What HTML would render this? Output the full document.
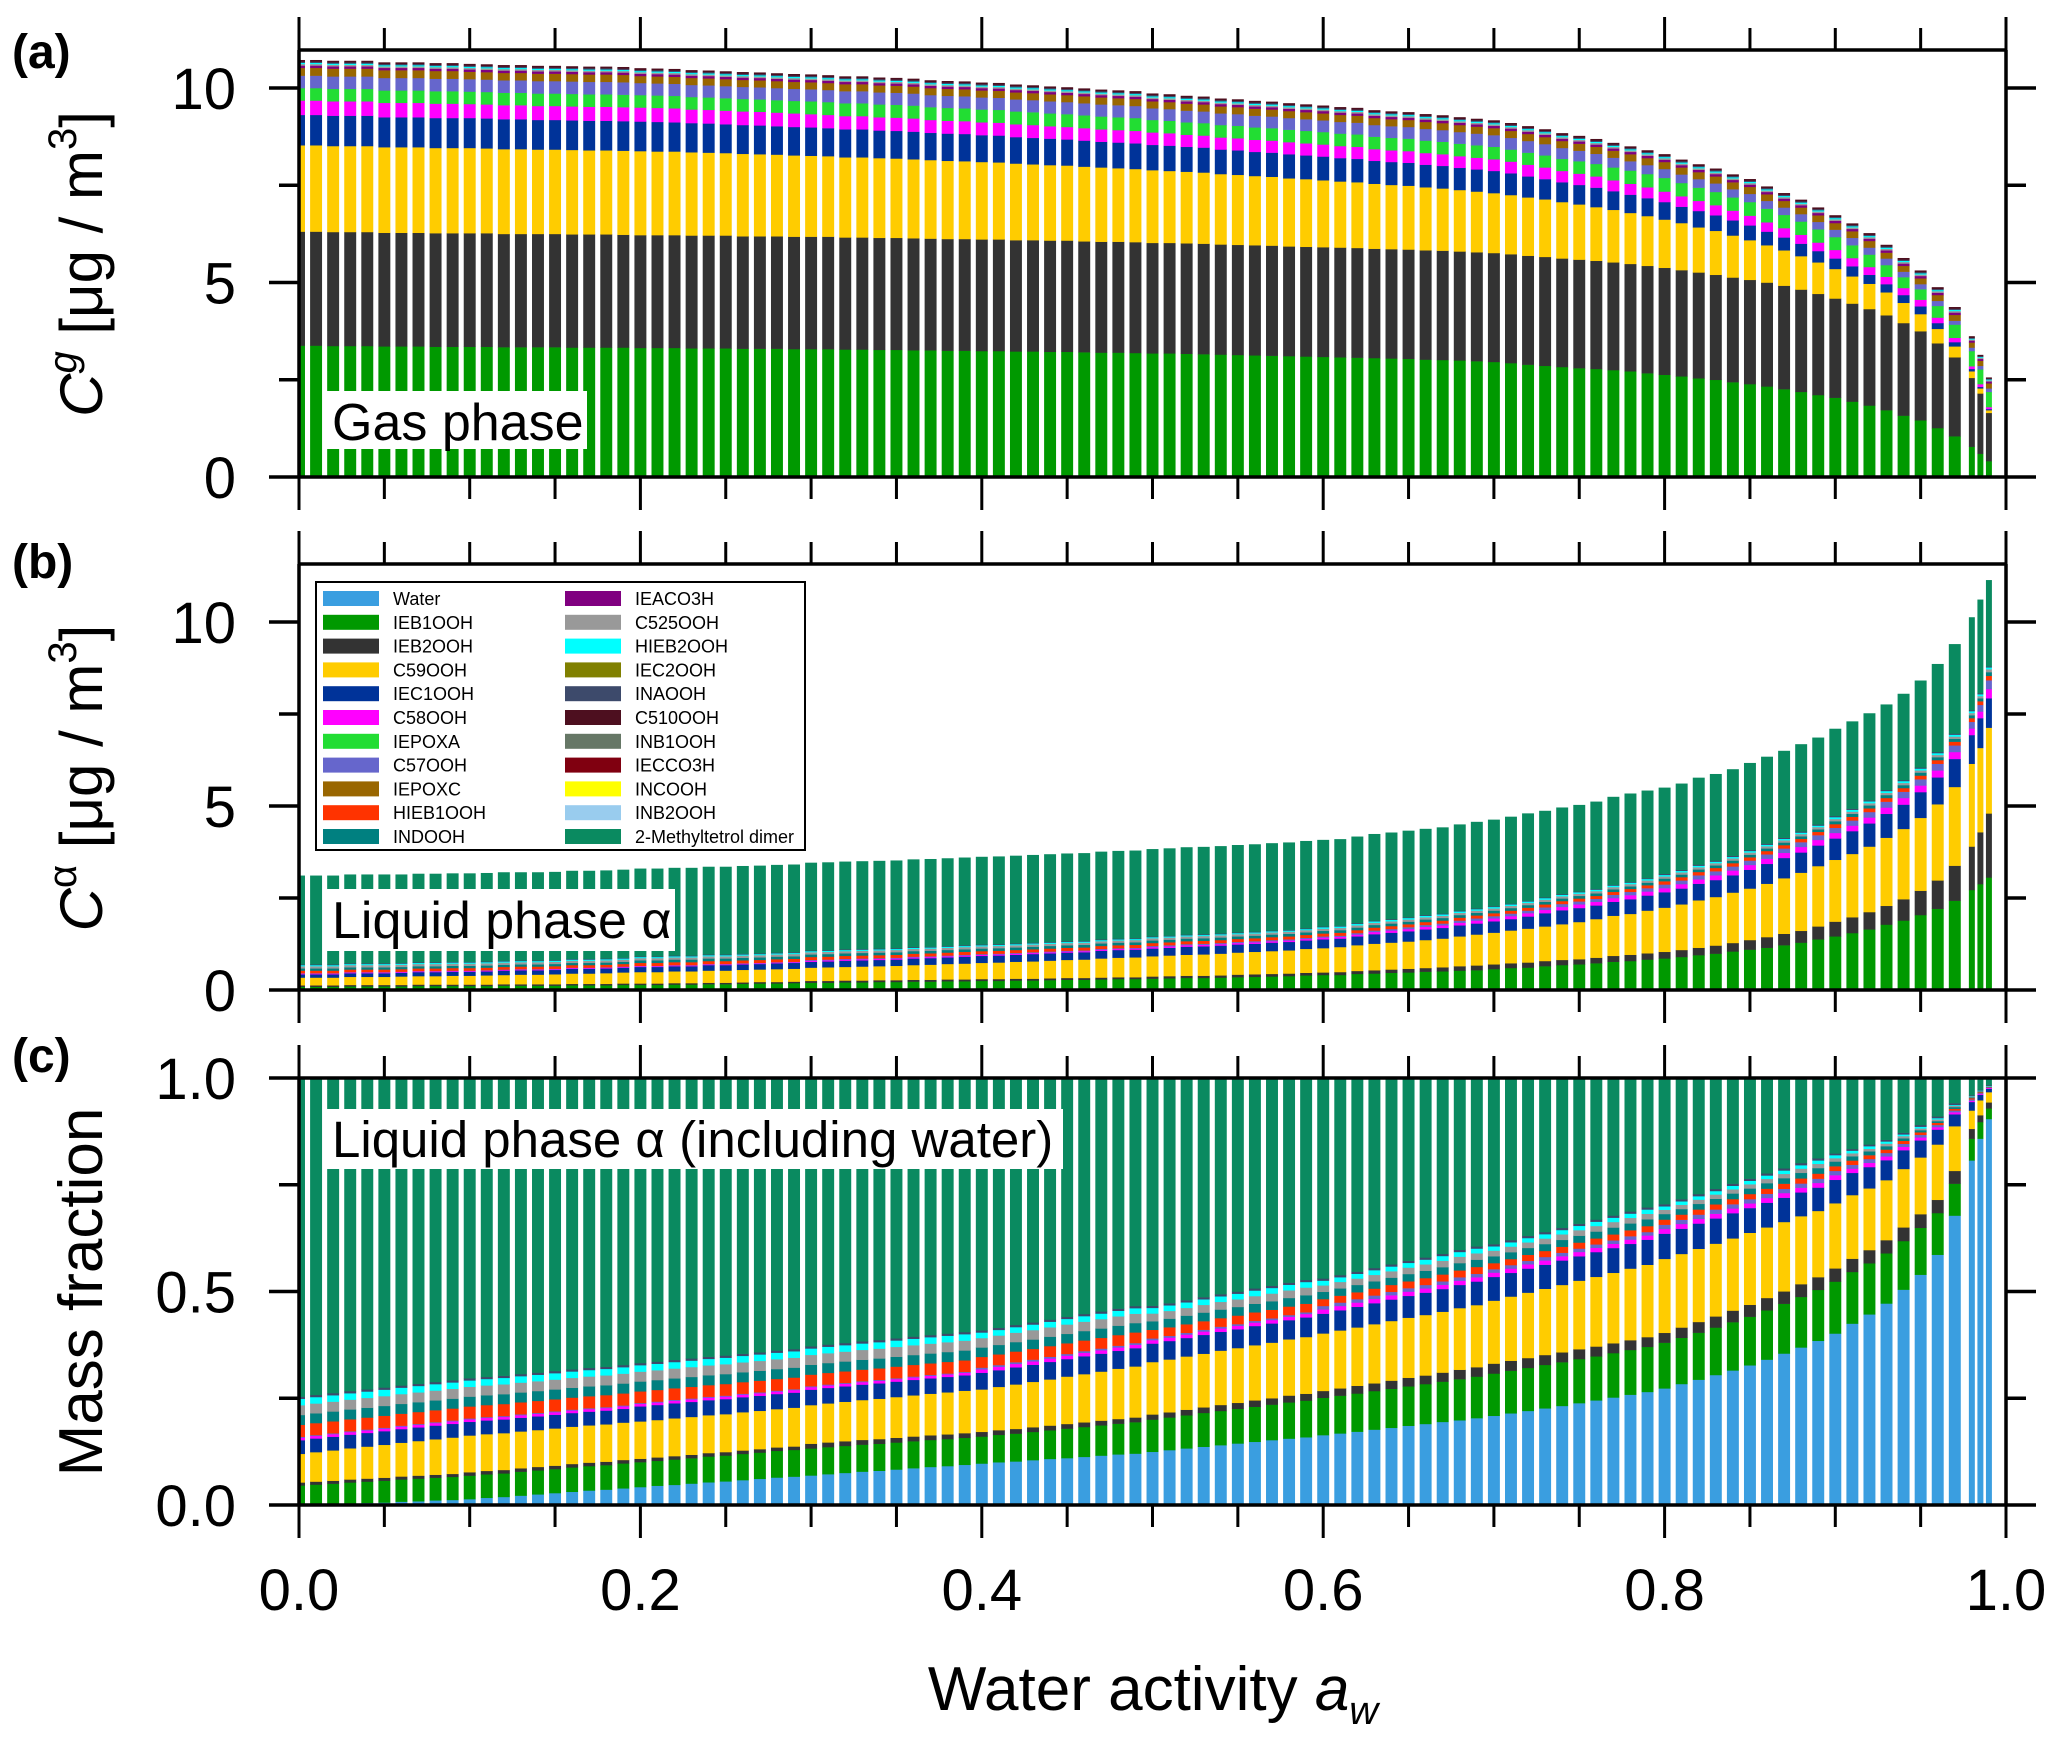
<!DOCTYPE html>
<html><head><meta charset="utf-8"><title>Stacked bars vs water activity</title>
<style>
html,body{margin:0;padding:0;background:#fff;}
svg{display:block;font-family:"Liberation Sans",Arial,sans-serif;}
</style></head>
<body>
<svg id="fig" width="2067" height="1744" viewBox="0 0 2067 1744" xmlns="http://www.w3.org/2000/svg">
<defs>
<clipPath id="clipA"><rect x="299" y="50" width="1707" height="427"/></clipPath>
<clipPath id="clipB"><rect x="299" y="564" width="1707" height="426"/></clipPath>
<clipPath id="clipC"><rect x="299" y="1078" width="1707" height="427"/></clipPath>
</defs>
<g id="bars"></g>
<g id="axes"></g>
<rect x="323" y="391" width="264" height="58" fill="#fff"/>
<text x="332" y="440" font-size="52">Gas phase</text>
<rect x="323" y="889" width="352" height="62" fill="#fff"/>
<text x="332" y="938" font-size="52">Liquid phase α</text>
<rect x="323" y="1109" width="740" height="60" fill="#fff"/>
<text x="332" y="1157" font-size="51">Liquid phase α (including water)</text>
<text x="12" y="68" font-size="48" font-weight="bold">(a)</text>
<text x="12" y="578" font-size="48" font-weight="bold">(b)</text>
<text x="12" y="1072" font-size="48" font-weight="bold">(c)</text>
<text transform="translate(102,264) rotate(-90)" text-anchor="middle" font-size="60"><tspan font-style="italic">C</tspan><tspan font-style="italic" font-size="40" dy="-26">g</tspan><tspan dy="26">  [μg / m</tspan><tspan font-size="40" dy="-26">3</tspan><tspan dy="26">]</tspan></text>
<text transform="translate(102,778) rotate(-90)" text-anchor="middle" font-size="60"><tspan font-style="italic">C</tspan><tspan font-size="40" dy="-26">α</tspan><tspan dy="26">  [μg / m</tspan><tspan font-size="40" dy="-26">3</tspan><tspan dy="26">]</tspan></text>
<text transform="translate(102,1292) rotate(-90)" text-anchor="middle" font-size="62">Mass fraction</text>
<text x="1153" y="1710" text-anchor="middle" font-size="62">Water activity  <tspan font-style="italic">a</tspan><tspan font-style="italic" font-size="40" dy="14">w</tspan></text>
<g id="legend"></g>
</svg>
<script>
const aw = [0,0.01,0.02,0.03,0.04,0.05,0.06,0.07,0.08,0.09,0.10,0.11,0.12,0.13,0.14,0.15,0.16,0.17,0.18,0.19,0.20,0.21,0.22,0.23,0.24,0.25,0.26,0.27,0.28,0.29,0.30,0.31,0.32,0.33,0.34,0.35,0.36,0.37,0.38,0.39,0.40,0.41,0.42,0.43,0.44,0.45,0.46,0.47,0.48,0.49,0.50,0.51,0.52,0.53,0.54,0.55,0.56,0.57,0.58,0.59,0.60,0.61,0.62,0.63,0.64,0.65,0.66,0.67,0.68,0.69,0.70,0.71,0.72,0.73,0.74,0.75,0.76,0.77,0.78,0.79,0.80,0.81,0.82,0.83,0.84,0.85,0.86,0.87,0.88,0.89,0.90,0.91,0.92,0.93,0.94,0.95,0.96,0.97,0.98,0.985,0.99];
const speciesNames = ["Water","IEB1OOH","IEB2OOH","C59OOH","IEC1OOH","C58OOH","IEPOXA","C57OOH","IEPOXC","HIEB1OOH","INDOOH","IEACO3H","C525OOH","HIEB2OOH","IEC2OOH","INAOOH","C510OOH","INB1OOH","IECCO3H","INCOOH","INB2OOH","2-Methyltetrol dimer"];
const speciesColors = ["#3a9ee0","#009900","#333333","#ffcc00","#003399","#ff00ff","#22dd33","#6666cc","#996600","#ff3300","#008080","#800080","#999999","#00ffff","#808000","#3d4a6b","#4d0f1f","#667766","#800010","#ffff00","#99ccee","#0a8a60"];
const xTickLabels = ["0.0","0.2","0.4","0.6","0.8","1.0"];
const xTickValues = [0,0.2,0.4,0.6,0.8,1.0];
const yTicksA = [0,5,10]; const yTickLabelsA = ["0","5","10"];
const yTicksB = [0,5,10]; const yTickLabelsB = ["0","5","10"];
const yTicksC = [0,0.5,1.0]; const yTickLabelsC = ["0.0","0.5","1.0"];

/* ---------- Panel (a): gas phase, ug/m3 ---------- */
const gasIEB1OOH = [3.38,3.38,3.37,3.37,3.37,3.36,3.36,3.36,3.35,3.35,
3.35,3.35,3.34,3.34,3.34,3.34,3.33,3.33,3.33,3.33,
3.32,3.32,3.32,3.31,3.31,3.31,3.30,3.30,3.30,3.29,
3.29,3.29,3.28,3.28,3.27,3.27,3.26,3.26,3.25,3.25,
3.24,3.24,3.23,3.23,3.22,3.22,3.21,3.20,3.20,3.19,
3.18,3.18,3.17,3.16,3.15,3.14,3.13,3.12,3.11,3.10,
3.09,3.08,3.07,3.06,3.05,3.04,3.02,3.01,3.00,2.98,
2.96,2.93,2.89,2.86,2.83,2.80,2.78,2.75,2.72,2.67,
2.63,2.59,2.54,2.50,2.44,2.39,2.33,2.26,2.19,2.11,
2.04,1.94,1.84,1.72,1.58,1.46,1.26,1.05,0.78,0.60,0.41];
const gasIEB2OOH = [2.93,2.93,2.93,2.93,2.93,2.92,2.92,2.92,2.92,2.92,
2.92,2.92,2.91,2.91,2.91,2.91,2.91,2.91,2.91,2.90,
2.90,2.90,2.90,2.90,2.90,2.90,2.89,2.89,2.89,2.89,
2.89,2.89,2.88,2.88,2.88,2.88,2.88,2.87,2.87,2.87,
2.87,2.87,2.86,2.86,2.86,2.86,2.85,2.85,2.85,2.85,
2.84,2.84,2.84,2.84,2.83,2.83,2.83,2.83,2.82,2.82,
2.82,2.82,2.82,2.81,2.81,2.81,2.81,2.81,2.80,2.80,
2.80,2.80,2.80,2.80,2.79,2.79,2.78,2.77,2.76,2.76,
2.75,2.73,2.72,2.70,2.69,2.68,2.67,2.66,2.63,2.60,
2.55,2.52,2.48,2.44,2.38,2.29,2.18,2.03,1.77,1.55,1.24];
const gasC59OOH = [2.22,2.22,2.21,2.21,2.21,2.20,2.20,2.20,2.19,2.19,
2.19,2.18,2.18,2.18,2.17,2.17,2.17,2.16,2.16,2.16,
2.16,2.15,2.15,2.14,2.13,2.12,2.12,2.11,2.10,2.09,
2.08,2.07,2.06,2.06,2.05,2.04,2.03,2.02,2.01,2.00,
1.99,1.98,1.97,1.95,1.94,1.93,1.92,1.91,1.89,1.88,
1.87,1.85,1.84,1.83,1.81,1.80,1.78,1.77,1.75,1.74,
1.72,1.70,1.69,1.67,1.65,1.64,1.62,1.60,1.58,1.56,
1.54,1.52,1.50,1.48,1.45,1.42,1.38,1.35,1.31,1.28,
1.24,1.21,1.16,1.13,1.08,1.02,0.96,0.91,0.86,0.81,
0.76,0.70,0.65,0.59,0.52,0.44,0.37,0.28,0.17,0.13,0.07];
const gasIEC1OOH = [.78,.78,.78,.78,.78,.77,.77,.77,.77,.77,
.77,.77,.77,.77,.76,.76,.76,.76,.76,.76,
.76,.76,.75,.75,.75,.74,.74,.74,.73,.73,
.73,.72,.72,.72,.71,.71,.71,.70,.70,.70,
.69,.69,.68,.68,.68,.67,.67,.66,.66,.66,
.65,.65,.64,.64,.63,.63,.62,.62,.62,.61,
.61,.60,.60,.59,.59,.59,.58,.58,.57,.57,
.57,.56,.54,.52,.51,.50,.50,.48,.47,.46,
.45,.42,.42,.40,.39,.38,.35,.33,.32,.29,
.27,.26,.23,.21,.20,.20,.15,.11,.06,.04,.03];
const gasC58OOH = [.37,.37,.37,.37,.37,.37,.37,.37,.37,.37,
.36,.36,.36,.36,.36,.36,.36,.36,.36,.36,
.36,.36,.36,.35,.35,.35,.35,.35,.35,.35,
.34,.34,.34,.34,.34,.34,.34,.33,.33,.33,
.33,.33,.33,.33,.32,.32,.32,.32,.32,.32,
.32,.32,.31,.31,.31,.31,.31,.31,.31,.31,
.31,.31,.31,.30,.30,.30,.30,.30,.30,.30,
.30,.30,.30,.30,.29,.29,.29,.28,.28,.28,
.27,.27,.26,.26,.25,.25,.24,.24,.23,.22,
.22,.21,.20,.19,.18,.17,.14,.11,.07,.07,.05];
const gasIEPOXA = [.32,.32,.32,.32,.32,.32,.32,.32,.32,.32,
.32,.32,.32,.32,.32,.32,.32,.32,.32,.32,
.32,.32,.32,.32,.32,.32,.32,.32,.32,.32,
.33,.33,.33,.33,.33,.33,.33,.33,.33,.33,
.33,.33,.33,.33,.33,.33,.33,.33,.33,.33,
.32,.32,.32,.32,.32,.32,.32,.32,.32,.32,
.32,.32,.32,.32,.32,.32,.32,.32,.32,.32,
.32,.31,.31,.31,.31,.32,.32,.33,.34,.34,
.35,.34,.34,.34,.34,.35,.35,.34,.34,.34,
.33,.33,.32,.30,.28,.27,.30,.34,.39,.38,.39];
const gasC57OOH = [.32,.32,.32,.32,.32,.32,.32,.32,.32,.32,
.32,.32,.32,.32,.32,.32,.32,.32,.32,.32,
.31,.31,.31,.31,.31,.31,.31,.31,.31,.31,
.31,.31,.31,.31,.31,.31,.31,.31,.31,.31,
.31,.31,.31,.31,.31,.31,.31,.31,.31,.31,
.30,.30,.30,.30,.30,.30,.30,.30,.30,.30,
.30,.30,.30,.30,.30,.30,.30,.30,.30,.30,
.30,.30,.30,.29,.28,.27,.26,.25,.24,.23,
.23,.22,.22,.22,.21,.21,.20,.19,.19,.19,
.19,.19,.18,.17,.14,.13,.13,.10,.09,.09,.09];
const gasIEPOXC = [.20,.20,.20,.20,.20,.20,.20,.20,.20,.20,
.19,.19,.19,.19,.19,.19,.19,.19,.19,.19,
.18,.18,.18,.18,.18,.18,.18,.18,.18,.18,
.18,.18,.18,.18,.18,.18,.18,.18,.18,.18,
.18,.18,.18,.18,.18,.18,.18,.18,.18,.18,
.18,.18,.18,.18,.18,.18,.18,.18,.18,.18,
.18,.18,.18,.18,.18,.18,.18,.18,.18,.18,
.18,.18,.18,.18,.18,.18,.18,.18,.18,.18,
.18,.18,.18,.18,.18,.18,.17,.17,.17,.17,
.17,.17,.17,.15,.15,.15,.15,.15,.13,.13,.13];
const gasIEACO3H = [.06,.06,.06,.06,.06,.06,.06,.06,.06,.06,
.06,.06,.06,.06,.06,.06,.06,.06,.06,.06,
.06,.06,.06,.06,.06,.06,.06,.06,.06,.06,
.06,.06,.06,.06,.06,.06,.06,.06,.06,.06,
.06,.06,.06,.06,.06,.06,.06,.06,.06,.06,
.06,.06,.06,.06,.06,.06,.06,.06,.06,.06,
.06,.06,.06,.06,.06,.06,.06,.06,.06,.06,
.06,.06,.06,.06,.06,.06,.06,.06,.06,.06,
.06,.06,.06,.06,.06,.06,.06,.06,.06,.06,
.06,.06,.06,.06,.06,.06,.06,.06,.05,.05,.05];
const gasC525OOH = [.04,.04,.04,.04,.04,.04,.04,.04,.04,.04,
.04,.04,.04,.04,.04,.04,.04,.04,.04,.04,
.04,.04,.04,.04,.04,.04,.04,.04,.04,.04,
.04,.04,.04,.04,.04,.04,.04,.04,.04,.04,
.04,.04,.04,.04,.04,.04,.04,.04,.04,.04,
.04,.04,.04,.04,.04,.04,.04,.04,.04,.04,
.04,.04,.04,.04,.04,.04,.04,.04,.04,.04,
.04,.04,.04,.04,.04,.04,.04,.04,.04,.04,
.04,.04,.04,.04,.04,.04,.04,.04,.04,.04,
.04,.04,.04,.04,.04,.04,.04,.04,.03,.03,.03];
const gasHIEB2OOH = [.03,.03,.03,.03,.03,.03,.03,.03,.03,.03,
.03,.03,.03,.03,.03,.03,.03,.03,.03,.03,
.03,.03,.03,.03,.03,.03,.03,.03,.03,.03,
.03,.03,.03,.03,.03,.03,.03,.03,.03,.03,
.03,.03,.03,.03,.03,.03,.03,.03,.03,.03,
.03,.03,.03,.03,.03,.03,.03,.03,.03,.03,
.03,.03,.03,.03,.03,.03,.03,.03,.03,.03,
.03,.03,.03,.03,.03,.03,.03,.03,.03,.03,
.03,.03,.03,.03,.03,.03,.03,.03,.03,.03,
.03,.03,.03,.03,.03,.03,.03,.03,.02,.02,.02];
const gasINAOOH = [.03,.03,.03,.03,.03,.03,.03,.03,.03,.03,
.03,.03,.03,.03,.03,.03,.03,.03,.03,.03,
.03,.03,.03,.03,.03,.03,.03,.03,.03,.03,
.03,.03,.03,.03,.03,.03,.03,.03,.03,.03,
.03,.03,.03,.03,.03,.03,.03,.03,.03,.03,
.03,.03,.03,.03,.03,.03,.03,.03,.03,.03,
.03,.03,.03,.03,.03,.03,.03,.03,.03,.03,
.03,.03,.03,.03,.03,.03,.03,.03,.03,.03,
.03,.03,.03,.03,.03,.03,.03,.03,.03,.03,
.03,.03,.03,.03,.03,.03,.03,.03,.02,.02,.02];
const gasC510OOH = [.04,.04,.04,.04,.04,.04,.04,.04,.04,.04,
.04,.04,.04,.04,.04,.04,.04,.04,.04,.04,
.04,.04,.04,.04,.04,.04,.04,.04,.04,.04,
.04,.04,.04,.04,.04,.04,.04,.04,.04,.04,
.04,.04,.04,.04,.04,.04,.04,.04,.04,.04,
.04,.04,.04,.04,.04,.04,.04,.04,.04,.04,
.04,.04,.04,.04,.04,.04,.04,.04,.04,.04,
.04,.04,.04,.04,.04,.04,.04,.04,.04,.04,
.04,.04,.04,.04,.04,.04,.04,.04,.04,.04,
.04,.04,.04,.04,.04,.04,.04,.04,.04,.03,.03];

/* ---------- Panel (b): liquid phase alpha, ug/m3 ---------- */
const liqIEB1OOH = [.09,.09,.09,.10,.10,.10,.10,.11,.11,.11,
.11,.11,.12,.12,.12,.12,.13,.13,.13,.14,
.14,.14,.15,.15,.16,.16,.17,.18,.18,.19,
.20,.20,.21,.21,.22,.22,.23,.23,.24,.24,
.25,.25,.26,.26,.27,.28,.28,.29,.30,.30,
.31,.32,.33,.33,.34,.35,.36,.37,.38,.40,
.41,.41,.44,.45,.47,.48,.50,.51,.53,.54,
.57,.60,.61,.65,.68,.70,.73,.77,.79,.83,
.86,.90,.95,.99,1.05,1.10,1.15,1.22,1.29,1.38,
1.46,1.55,1.65,1.78,1.89,2.04,2.21,2.43,2.72,2.88,3.06];
const liqIEB2OOH = [.04,.04,.04,.04,.04,.04,.04,.04,.04,.04,
.04,.04,.04,.04,.04,.04,.04,.04,.04,.04,
.04,.04,.04,.04,.04,.04,.04,.04,.04,.04,
.05,.05,.05,.05,.05,.05,.05,.05,.05,.05,
.05,.05,.05,.05,.05,.05,.05,.05,.05,.05,
.06,.06,.06,.06,.06,.07,.07,.07,.07,.07,
.07,.08,.08,.09,.09,.10,.10,.11,.12,.13,
.13,.13,.14,.14,.14,.14,.15,.16,.17,.17,
.18,.19,.20,.22,.23,.26,.29,.31,.32,.35,
.40,.43,.47,.51,.58,.66,.77,.95,1.18,1.41,1.74];
const liqC59OOH = [.21,.21,.21,.22,.22,.22,.23,.23,.23,.24,
.24,.25,.25,.26,.26,.27,.28,.28,.29,.30,
.31,.31,.32,.32,.33,.33,.34,.34,.35,.35,
.36,.37,.37,.38,.38,.39,.40,.41,.42,.43,
.44,.45,.46,.47,.48,.49,.50,.52,.53,.54,
.55,.56,.57,.58,.59,.60,.61,.62,.63,.65,
.66,.68,.70,.72,.73,.74,.76,.78,.81,.84,
.86,.89,.92,.94,.97,1.01,1.05,1.09,1.11,1.16,
1.20,1.24,1.29,1.32,1.37,1.40,1.45,1.51,1.58,1.64,
1.68,1.72,1.78,1.85,1.91,1.98,2.07,2.14,2.25,2.29,2.33];
const liqIEC1OOH = [.09,.09,.09,.10,.10,.10,.10,.11,.11,.11,
.11,.11,.12,.12,.12,.12,.13,.13,.13,.13,
.14,.14,.14,.14,.15,.15,.15,.15,.16,.16,
.16,.16,.17,.17,.17,.17,.18,.18,.18,.19,
.19,.19,.19,.20,.20,.20,.20,.21,.21,.21,
.21,.21,.22,.22,.22,.22,.22,.23,.23,.23,
.24,.23,.24,.26,.27,.28,.29,.29,.30,.30,
.31,.31,.33,.36,.38,.38,.37,.38,.40,.41,
.42,.43,.45,.46,.47,.51,.54,.55,.55,.56,
.58,.62,.63,.65,.66,.70,.73,.76,.78,.81,.80];
const liqC58OOH = [.02,.02,.02,.02,.02,.02,.02,.02,.02,.02,
.02,.02,.02,.02,.02,.02,.02,.02,.02,.02,
.02,.02,.02,.02,.02,.02,.02,.02,.02,.02,
.03,.03,.03,.03,.03,.03,.03,.03,.03,.03,
.03,.03,.03,.03,.03,.03,.03,.03,.03,.03,
.04,.04,.04,.04,.04,.04,.04,.04,.04,.04,
.05,.05,.05,.06,.06,.06,.07,.07,.07,.08,
.08,.08,.09,.09,.09,.10,.10,.10,.11,.11,
.11,.12,.12,.13,.13,.13,.14,.14,.15,.15,
.15,.15,.16,.17,.18,.18,.19,.19,.18,.18,.25];
const liqC57OOH = [.01,.01,.01,.01,.01,.01,.01,.01,.01,.01,
.01,.01,.01,.01,.01,.01,.01,.01,.01,.01,
.01,.01,.01,.01,.01,.01,.01,.01,.01,.01,
.02,.02,.02,.02,.02,.02,.02,.02,.02,.02,
.02,.02,.02,.02,.02,.02,.02,.02,.02,.02,
.03,.03,.03,.03,.03,.03,.03,.03,.03,.03,
.03,.03,.04,.04,.04,.05,.05,.05,.06,.06,
.06,.07,.07,.07,.08,.08,.08,.09,.09,.09,
.10,.10,.11,.11,.11,.12,.12,.12,.13,.13,
.14,.14,.15,.16,.17,.17,.18,.18,.18,.18,.24];
const liqHIEB1OOH = [.07,.07,.07,.07,.07,.07,.07,.07,.07,.07,
.07,.07,.07,.07,.07,.07,.07,.07,.07,.07,
.08,.08,.08,.08,.08,.08,.08,.08,.08,.08,
.08,.08,.08,.08,.08,.08,.08,.08,.08,.08,
.08,.08,.08,.08,.08,.08,.08,.08,.08,.08,
.08,.08,.08,.08,.08,.08,.08,.08,.08,.08,
.08,.08,.08,.08,.08,.08,.08,.08,.08,.08,
.08,.08,.08,.08,.08,.08,.08,.08,.08,.08,
.09,.09,.09,.09,.09,.09,.09,.09,.09,.09,
.10,.10,.10,.10,.10,.10,.10,.10,.10,.10,.12];
const liqINDOOH = [.06,.06,.06,.06,.06,.06,.06,.06,.06,.06,
.06,.06,.06,.06,.06,.06,.06,.06,.06,.06,
.07,.07,.07,.07,.07,.07,.07,.07,.07,.07,
.07,.07,.07,.07,.07,.07,.07,.07,.07,.07,
.07,.07,.07,.07,.07,.07,.07,.07,.07,.07,
.07,.07,.07,.07,.07,.07,.07,.07,.07,.07,
.07,.07,.07,.07,.07,.07,.07,.07,.07,.07,
.07,.07,.07,.07,.07,.07,.07,.07,.07,.07,
.07,.07,.07,.07,.07,.07,.07,.07,.07,.07,
.08,.08,.08,.08,.08,.08,.08,.08,.08,.08,.10];
const liqC525OOH = [.06,.06,.06,.06,.06,.06,.06,.06,.06,.06,
.06,.06,.06,.06,.06,.06,.06,.06,.06,.06,
.06,.06,.06,.06,.06,.06,.06,.06,.06,.06,
.06,.06,.06,.06,.06,.06,.06,.06,.06,.06,
.06,.06,.06,.06,.06,.06,.06,.06,.06,.06,
.06,.06,.06,.06,.06,.06,.06,.06,.06,.06,
.06,.06,.06,.06,.06,.06,.06,.06,.06,.06,
.06,.06,.06,.06,.06,.06,.06,.06,.06,.06,
.06,.06,.06,.06,.06,.06,.06,.06,.06,.06,
.06,.06,.06,.06,.06,.06,.06,.06,.06,.06,.08];
const liqHIEB2OOH = [.03,.03,.03,.03,.03,.03,.03,.03,.03,.03,
.03,.03,.03,.03,.03,.03,.03,.03,.03,.03,
.03,.03,.03,.03,.03,.03,.03,.03,.03,.03,
.03,.03,.03,.03,.03,.03,.03,.03,.03,.03,
.03,.03,.03,.03,.03,.03,.03,.03,.03,.03,
.03,.03,.03,.03,.03,.03,.03,.03,.03,.03,
.04,.04,.04,.04,.04,.04,.04,.04,.04,.04,
.04,.04,.04,.04,.04,.04,.04,.04,.04,.04,
.04,.04,.04,.04,.04,.04,.04,.04,.04,.04,
.05,.05,.05,.05,.05,.05,.05,.05,.05,.05,.05];
const liqINAOOH = [.02,.02,.02,.02,.02,.02,.02,.02,.02,.02,
.02,.02,.02,.02,.02,.02,.02,.02,.02,.02,
.02,.02,.02,.02,.02,.02,.02,.02,.02,.02,
.02,.02,.02,.02,.02,.02,.02,.02,.02,.02,
.02,.02,.02,.02,.02,.02,.02,.02,.02,.02,
.02,.02,.02,.02,.02,.02,.02,.02,.02,.02,
.02,.02,.02,.02,.02,.02,.02,.02,.02,.02,
.02,.02,.02,.02,.02,.02,.02,.02,.02,.02,
.03,.03,.03,.03,.03,.03,.03,.03,.03,.03,
.03,.03,.03,.03,.03,.03,.03,.03,.03,.03,.03];
const liqDimer = [2.41,2.41,2.41,2.41,2.41,2.41,2.40,2.40,2.40,2.40,
2.40,2.40,2.40,2.39,2.39,2.39,2.39,2.39,2.39,2.39,
2.38,2.38,2.38,2.38,2.38,2.38,2.38,2.38,2.38,2.38,
2.38,2.38,2.38,2.38,2.38,2.38,2.38,2.38,2.38,2.38,
2.38,2.38,2.38,2.38,2.38,2.38,2.38,2.38,2.38,2.38,
2.37,2.37,2.37,2.37,2.37,2.37,2.37,2.37,2.37,2.37,
2.35,2.35,2.35,2.35,2.35,2.35,2.34,2.34,2.34,2.35,
2.35,2.36,2.37,2.35,2.35,2.35,2.37,2.39,2.40,2.38,
2.34,2.34,2.36,2.35,2.35,2.36,2.36,2.36,2.37,2.36,
2.37,2.37,2.36,2.32,2.34,2.36,2.39,2.43,2.52,2.54,2.34];

/* ---------- Panel (c): mass fractions including water ---------- */
const fracWater = [.000,.001,.002,.004,.005,.006,.008,.009,.011,.012,
.014,.017,.019,.022,.025,.028,.031,.034,.036,.039,
.042,.045,.047,.050,.053,.055,.058,.061,.064,.066,
.069,.072,.075,.078,.080,.083,.086,.089,.091,.094,
.097,.100,.102,.105,.108,.110,.113,.116,.119,.121,
.124,.128,.132,.136,.140,.144,.148,.152,.156,.159,
.163,.167,.171,.176,.180,.185,.189,.194,.198,.203,
.207,.213,.219,.225,.231,.238,.245,.252,.259,.266,
.273,.283,.293,.304,.315,.328,.342,.356,.371,.387,
.403,.425,.448,.474,.505,.540,.588,.680,.808,.859,.906];
const fracIEB1OOH = [.046,.047,.048,.049,.050,.051,.052,.053,.053,.054,
.055,.055,.055,.056,.056,.056,.057,.057,.057,.058,
.058,.058,.059,.059,.060,.060,.061,.061,.062,.062,
.063,.063,.063,.063,.063,.063,.063,.063,.063,.063,
.063,.064,.065,.066,.067,.069,.070,.071,.072,.074,
.075,.076,.077,.079,.080,.081,.082,.083,.085,.086,
.087,.088,.089,.090,.091,.092,.093,.094,.096,.097,
.098,.099,.100,.101,.102,.103,.103,.104,.105,.106,
.107,.108,.110,.111,.113,.114,.116,.117,.119,.120,
.122,.121,.120,.118,.114,.110,.098,.075,.051,.039,.025];
const fracIEB2OOH = [.007,.007,.007,.007,.007,.007,.007,.007,.007,.007,
.008,.008,.008,.008,.008,.008,.008,.008,.008,.008,
.008,.008,.008,.008,.008,.008,.008,.008,.008,.008,
.011,.011,.011,.011,.011,.011,.011,.011,.011,.011,
.011,.011,.011,.011,.011,.011,.011,.011,.011,.011,
.012,.012,.013,.013,.014,.014,.015,.015,.016,.016,
.016,.017,.018,.018,.019,.020,.020,.021,.022,.022,
.023,.023,.023,.023,.023,.023,.023,.023,.023,.023,
.023,.024,.025,.026,.027,.028,.029,.029,.030,.030,
.031,.031,.031,.031,.032,.032,.031,.030,.023,.016,.014];
const fracC59OOH = [.067,.069,.071,.073,.075,.077,.079,.081,.083,.085,
.086,.086,.086,.086,.086,.087,.087,.087,.087,.087,
.087,.087,.088,.088,.088,.088,.089,.089,.089,.090,
.090,.091,.092,.093,.094,.095,.096,.097,.098,.099,
.099,.101,.104,.106,.108,.111,.113,.115,.118,.120,
.122,.123,.124,.125,.127,.128,.129,.130,.132,.133,
.134,.135,.136,.138,.139,.140,.141,.142,.144,.145,
.146,.149,.152,.154,.157,.160,.163,.165,.168,.170,
.173,.172,.171,.170,.169,.169,.166,.163,.160,.156,
.153,.149,.145,.141,.137,.133,.130,.105,.043,.035,.024];
const fracIEC1OOH = [.032,.032,.032,.032,.032,.032,.032,.032,.032,.032,
.032,.032,.032,.032,.032,.032,.032,.032,.032,.032,
.035,.035,.035,.035,.035,.035,.035,.035,.035,.035,
.036,.036,.036,.036,.036,.036,.036,.036,.036,.036,
.039,.039,.040,.040,.041,.041,.042,.042,.042,.043,
.043,.043,.043,.044,.044,.044,.045,.045,.045,.046,
.046,.047,.048,.049,.050,.051,.052,.053,.054,.055,
.055,.055,.056,.056,.057,.057,.058,.058,.058,.059,
.059,.059,.059,.059,.059,.058,.058,.057,.056,.055,
.055,.052,.050,.047,.044,.040,.035,.028,.020,.013,.008];
const fracC58OOH = [.006,.006,.006,.006,.006,.006,.006,.006,.006,.006,
.006,.006,.006,.006,.006,.006,.006,.006,.006,.006,
.006,.006,.006,.006,.006,.006,.006,.006,.006,.006,
.006,.006,.006,.006,.006,.006,.006,.006,.006,.006,
.008,.008,.008,.008,.008,.008,.008,.008,.008,.008,
.008,.008,.008,.008,.008,.008,.008,.008,.008,.008,
.010,.010,.010,.010,.010,.010,.010,.010,.010,.010,
.010,.010,.010,.010,.010,.010,.010,.010,.010,.010,
.011,.011,.011,.011,.011,.011,.011,.011,.011,.011,
.011,.010,.010,.009,.008,.007,.006,.005,.003,.002,.002];
const fracC57OOH = [.002,.002,.002,.002,.002,.002,.002,.002,.002,.002,
.002,.002,.002,.002,.002,.002,.002,.002,.002,.002,
.002,.002,.002,.002,.002,.002,.002,.002,.002,.002,
.002,.002,.002,.002,.002,.002,.002,.002,.002,.002,
.004,.004,.004,.004,.004,.004,.004,.004,.004,.004,
.004,.004,.004,.004,.004,.004,.004,.004,.004,.004,
.008,.008,.008,.008,.008,.008,.008,.008,.008,.008,
.008,.008,.008,.008,.008,.008,.008,.008,.008,.008,
.010,.010,.010,.010,.010,.010,.010,.010,.010,.010,
.010,.009,.009,.008,.007,.006,.005,.004,.003,.002,.001];
const fracHIEB1OOH = [.028,.028,.028,.028,.028,.028,.028,.028,.028,.028,
.028,.028,.028,.028,.028,.028,.028,.028,.028,.028,
.027,.027,.027,.027,.027,.027,.027,.027,.027,.027,
.027,.027,.027,.027,.027,.027,.027,.027,.027,.027,
.025,.025,.025,.025,.025,.025,.025,.025,.025,.025,
.020,.020,.020,.020,.020,.020,.020,.020,.020,.020,
.016,.016,.016,.016,.016,.016,.016,.016,.016,.016,
.014,.014,.014,.014,.014,.014,.014,.014,.014,.014,
.012,.012,.012,.012,.012,.012,.012,.012,.012,.012,
.011,.010,.009,.008,.007,.006,.005,.004,.003,.002,.001];
const fracINDOOH = [.023,.023,.023,.023,.023,.023,.023,.023,.023,.023,
.023,.023,.023,.023,.023,.023,.023,.023,.023,.023,
.023,.023,.023,.023,.023,.023,.023,.023,.023,.023,
.023,.023,.023,.023,.023,.023,.023,.023,.023,.023,
.022,.022,.022,.022,.022,.022,.022,.022,.022,.022,
.020,.020,.020,.020,.020,.020,.020,.020,.020,.020,
.017,.017,.017,.017,.017,.017,.017,.017,.017,.017,
.016,.016,.016,.016,.016,.016,.016,.016,.016,.016,
.013,.013,.013,.013,.013,.013,.013,.013,.013,.013,
.011,.010,.009,.008,.006,.005,.004,.004,.002,.002,.001];
const fracC525OOH = [.023,.023,.023,.023,.023,.023,.023,.023,.023,.023,
.023,.023,.023,.023,.023,.023,.023,.023,.023,.023,
.023,.023,.023,.023,.023,.023,.023,.023,.023,.023,
.023,.023,.023,.023,.023,.023,.023,.023,.023,.023,
.022,.022,.022,.022,.022,.022,.022,.022,.022,.022,
.018,.018,.018,.018,.018,.018,.018,.018,.018,.018,
.015,.015,.015,.015,.015,.015,.015,.015,.015,.015,
.013,.013,.013,.013,.013,.013,.013,.013,.013,.013,
.010,.010,.010,.010,.010,.010,.010,.010,.010,.010,
.008,.007,.006,.006,.005,.004,.004,.003,.002,.001,.001];
const fracHIEB2OOH = [.015,.015,.015,.015,.015,.015,.015,.015,.015,.015,
.015,.015,.015,.015,.015,.015,.015,.015,.015,.015,
.015,.015,.015,.015,.015,.015,.015,.015,.015,.015,
.015,.015,.015,.015,.015,.015,.015,.015,.015,.015,
.013,.013,.013,.013,.013,.013,.013,.013,.013,.013,
.013,.013,.013,.013,.013,.013,.013,.013,.013,.013,
.011,.011,.011,.011,.011,.011,.011,.011,.011,.011,
.010,.010,.010,.010,.010,.010,.010,.010,.010,.010,
.008,.008,.008,.008,.008,.008,.008,.008,.008,.008,
.007,.006,.006,.005,.004,.004,.003,.002,.001,.001,.001];
const fracINAOOH = [.005,.005,.005,.005,.005,.005,.005,.005,.005,.005,
.005,.005,.005,.005,.005,.005,.005,.005,.005,.005,
.005,.005,.005,.005,.005,.005,.005,.005,.005,.005,
.005,.005,.005,.005,.005,.005,.005,.005,.005,.005,
.005,.005,.005,.005,.005,.005,.005,.005,.005,.005,
.005,.005,.005,.005,.005,.005,.005,.005,.005,.005,
.005,.005,.005,.005,.005,.005,.005,.005,.005,.005,
.005,.005,.005,.005,.005,.005,.005,.005,.005,.005,
.005,.005,.005,.005,.005,.005,.005,.005,.005,.005,
.004,.004,.004,.004,.004,.004,.004,.004,.002,.002,.002];
const fracDimer = [.746,.742,.737,.733,.729,.724,.720,.716,.711,.707,
.703,.699,.695,.691,.687,.684,.680,.676,.672,.668,
.664,.660,.656,.652,.648,.644,.641,.637,.633,.629,
.625,.621,.618,.614,.611,.607,.603,.600,.596,.593,
.589,.583,.577,.571,.565,.559,.553,.547,.541,.536,
.530,.524,.517,.511,.505,.499,.492,.486,.480,.473,
.467,.459,.451,.443,.434,.426,.418,.410,.401,.393,
.385,.376,.367,.358,.349,.340,.331,.322,.313,.304,
.295,.283,.271,.259,.247,.236,.224,.212,.200,.189,
.177,.166,.156,.145,.128,.110,.090,.059,.040,.027,.016];

/* ---------- drawing ---------- */
const NS = "http://www.w3.org/2000/svg";
const PX0 = 299, PX1 = 2006;
function X(v){ return PX0 + v*(PX1-PX0); }
const panels = [
 {id:"a", clip:"clipA", top:50, y0:477, ppu:38.9, normalize:false,
  ticks:yTicksA, labels:yTickLabelsA, minor:[2.5,7.5],
  layers:[["IEB1OOH",gasIEB1OOH],["IEB2OOH",gasIEB2OOH],["C59OOH",gasC59OOH],["IEC1OOH",gasIEC1OOH],["C58OOH",gasC58OOH],["IEPOXA",gasIEPOXA],["C57OOH",gasC57OOH],["IEPOXC",gasIEPOXC],["IEACO3H",gasIEACO3H],["C525OOH",gasC525OOH],["HIEB2OOH",gasHIEB2OOH],["INAOOH",gasINAOOH],["C510OOH",gasC510OOH]]},
 {id:"b", clip:"clipB", top:564, y0:990, ppu:36.8, normalize:false,
  ticks:yTicksB, labels:yTickLabelsB, minor:[2.5,7.5],
  layers:[["IEB1OOH",liqIEB1OOH],["IEB2OOH",liqIEB2OOH],["C59OOH",liqC59OOH],["IEC1OOH",liqIEC1OOH],["C58OOH",liqC58OOH],["C57OOH",liqC57OOH],["HIEB1OOH",liqHIEB1OOH],["INDOOH",liqINDOOH],["C525OOH",liqC525OOH],["HIEB2OOH",liqHIEB2OOH],["INAOOH",liqINAOOH],["2-Methyltetrol dimer",liqDimer]]},
 {id:"c", clip:"clipC", top:1078, y0:1505, ppu:427, normalize:true,
  ticks:yTicksC, labels:yTickLabelsC, minor:[0.25,0.75],
  layers:[["Water",fracWater],["IEB1OOH",fracIEB1OOH],["IEB2OOH",fracIEB2OOH],["C59OOH",fracC59OOH],["IEC1OOH",fracIEC1OOH],["C58OOH",fracC58OOH],["C57OOH",fracC57OOH],["HIEB1OOH",fracHIEB1OOH],["INDOOH",fracINDOOH],["C525OOH",fracC525OOH],["HIEB2OOH",fracHIEB2OOH],["INAOOH",fracINAOOH],["2-Methyltetrol dimer",fracDimer]]}
];
function colorOf(name){ return speciesColors[speciesNames.indexOf(name)]; }
function slug(s){ return s.toLowerCase().replace(/[^a-z0-9]+/g,'-').replace(/^-|-$/g,''); }

const barsG = document.getElementById('bars');
const axesG = document.getElementById('axes');

panels.forEach(p=>{
  const g = document.createElementNS(NS,'g');
  g.setAttribute('clip-path','url(#'+p.clip+')');
  
  
  barsG.appendChild(g);
  for(let i=0;i<aw.length;i++){
    const prev = i>0 ? aw[i]-aw[i-1] : 0.01;
    const next = i<aw.length-1 ? aw[i+1]-aw[i] : prev;
    const gap = Math.min(prev,next);
    const w = 0.7*gap*(PX1-PX0);
    const cx = X(aw[i]);
    let total = 0;
    if(p.normalize){ p.layers.forEach(l=>{ total += (l[1][i]||0); }); }
    let cum = 0;
    p.layers.forEach(l=>{
      let v = l[1][i]||0;
      if(p.normalize && total>0) v = v/total;
      if(v<=0) return;
      const r = document.createElementNS(NS,'rect');
      const yTop = p.y0 - (cum+v)*p.ppu;
      r.setAttribute('x',(cx-w/2).toFixed(2));
      r.setAttribute('y',yTop.toFixed(2));
      r.setAttribute('width',w.toFixed(2));
      r.setAttribute('height',(v*p.ppu+0.3).toFixed(2));
      r.setAttribute('fill',colorOf(l[0]));
      
      
      g.appendChild(r);
      cum += v;
    });
  }
});

function line(x1,y1,x2,y2,name,wd){
  const l = document.createElementNS(NS,'line');
  l.setAttribute('x1',x1); l.setAttribute('y1',y1); l.setAttribute('x2',x2); l.setAttribute('y2',y2);
  l.setAttribute('stroke','#000'); l.setAttribute('stroke-width',wd||3);
  
  
  axesG.appendChild(l);
}
function txt(x,y,s,name,anchor,size){
  const t = document.createElementNS(NS,'text');
  t.setAttribute('x',x); t.setAttribute('y',y);
  t.setAttribute('text-anchor',anchor); t.setAttribute('font-size',size);
  t.textContent = s;
  
  
  axesG.appendChild(t);
}

panels.forEach(p=>{
  const bottom = p.y0;
  const top = p.top;
  line(PX0,top,PX1,top,'frame-top-'+p.id,3.5);
  line(PX0,bottom,PX1,bottom,'x-axis-'+p.id,3.5);
  line(PX0,top,PX0,bottom,'y-axis-left-'+p.id,3.5);
  line(PX1,top,PX1,bottom,'y-axis-right-'+p.id,3.5);
  for(let k=0;k<=20;k++){
    const v = k*0.05;
    const major = (k%4===0);
    const len = major?33:22;
    const xx = X(v);
    line(xx,bottom,xx,bottom+len,'x-tick-bottom-'+p.id,3);
    line(xx,top,xx,top-len,'x-tick-top-'+p.id,3);
  }
  p.ticks.forEach((v,j)=>{
    const yy = p.y0 - v*p.ppu;
    line(PX0-30,yy,PX0,yy,'y-tick-left-'+p.id,3.5);
    line(PX1,yy,PX1+30,yy,'y-tick-right-'+p.id,3.5);
    txt(236,yy+21,p.labels[j],'y-tick-label-'+p.id,'end',58);
  });
  p.minor.forEach(v=>{
    const yy = p.y0 - v*p.ppu;
    line(PX0-20,yy,PX0,yy,'y-minor-tick-left-'+p.id,3.5);
    line(PX1,yy,PX1+20,yy,'y-minor-tick-right-'+p.id,3.5);
  });
});
xTickValues.forEach((v,j)=>{
  txt(X(v),1610,xTickLabels[j],'x-tick-label','middle',58);
});

/* legend */
const lg = document.getElementById('legend');
const box = document.createElementNS(NS,'rect');
box.setAttribute('x',316); box.setAttribute('y',582); box.setAttribute('width',489); box.setAttribute('height',268);
box.setAttribute('fill','#fff'); box.setAttribute('stroke','#000'); box.setAttribute('stroke-width',2);


lg.appendChild(box);
speciesNames.forEach((name,k)=>{
  const col = k<11?0:1, row = k%11;
  const sx = col===0?323:565;
  const yy = 589 + row*23.8;
  const sw = document.createElementNS(NS,'rect');
  sw.setAttribute('x',sx); sw.setAttribute('y',yy+2); sw.setAttribute('width',56); sw.setAttribute('height',15);
  sw.setAttribute('fill',colorOf(name));
  
  
  lg.appendChild(sw);
  const t = document.createElementNS(NS,'text');
  t.setAttribute('x',sx+70); t.setAttribute('y',yy+16); t.setAttribute('font-size',18);
  t.textContent = name;
  
  
  lg.appendChild(t);
});
</script>
</body></html>
